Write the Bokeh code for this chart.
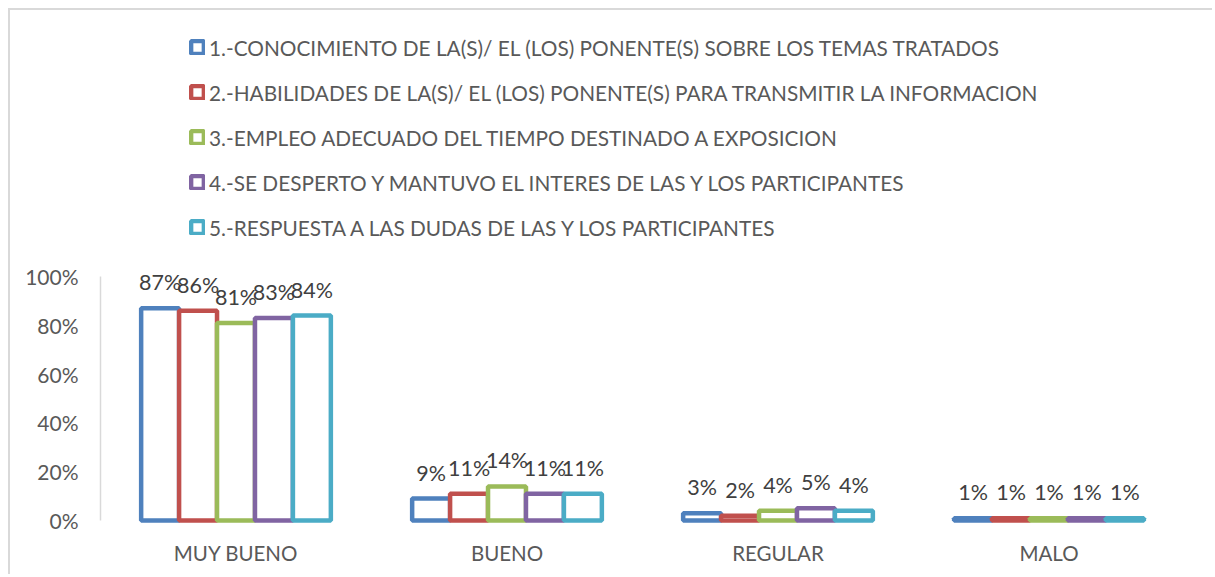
from bokeh.plotting import figure
from bokeh.models import (ColumnDataSource, FactorRange, Range1d, FixedTicker,
                          NumeralTickFormatter, Legend, LegendItem, LabelSet)
from bokeh.core.properties import value
from bokeh.transform import dodge
from bokeh.embed import file_html
from bokeh.resources import INLINE

categories = ["MUY BUENO", "BUENO", "REGULAR", "MALO"]
series_names = [
    "1.-CONOCIMIENTO DE LA(S)/ EL (LOS) PONENTE(S) SOBRE LOS TEMAS TRATADOS",
    "2.-HABILIDADES DE LA(S)/ EL (LOS) PONENTE(S) PARA TRANSMITIR LA INFORMACION",
    "3.-EMPLEO ADECUADO DEL TIEMPO DESTINADO A EXPOSICION",
    "4.-SE DESPERTO Y MANTUVO EL INTERES DE LAS Y LOS PARTICIPANTES",
    "5.-RESPUESTA A LAS DUDAS DE LAS Y LOS PARTICIPANTES",
]
s1 = [0.87, 0.09, 0.03, 0.01]
s2 = [0.86, 0.11, 0.02, 0.01]
s3 = [0.81, 0.14, 0.04, 0.01]
s4 = [0.83, 0.11, 0.05, 0.01]
s5 = [0.84, 0.11, 0.04, 0.01]
series_values = [s1, s2, s3, s4, s5]
colors = ["#4F81BD", "#C0504D", "#9BBB59", "#8064A2", "#4BACC6"]
y_ticks = [0, 0.2, 0.4, 0.6, 0.8, 1.0]

FONT = "Lato"
W, H = 1204, 566
FRAME_BOTTOM = 513

p = figure(x_range=FactorRange(*categories, range_padding=0),
           y_range=Range1d(-0.012, 2.008),
           width=W, height=H, output_backend="svg", toolbar_location=None,
           min_border_left=90, min_border_right=W - 1174, min_border_top=20,
           min_border_bottom=H - FRAME_BOTTOM)
p.styles = {"border-left": "2px solid #d9d9d9", "border-top": "2px solid #d9d9d9",
            "margin-left": "8px", "margin-top": "8px"}
p.outline_line_color = None
p.grid.visible = False
p.background_fill_color = "white"
p.border_fill_color = "white"

bw = 0.14
offsets = [-0.28, -0.14, 0.0, 0.14, 0.28]
items = []
for name, vals, col, off in zip(series_names, series_values, colors, offsets):
    src = ColumnDataSource(dict(cat=categories, val=vals,
                                lab=[f"{round(v*100)}%" for v in vals]))
    r = p.vbar(x=dodge("cat", off, range=p.x_range), top="val", bottom=0,
               width=bw, source=src, fill_color="white", line_color=col,
               line_width=4.5)
    items.append(LegendItem(label=name, renderers=[r]))
    ls = LabelSet(x=dodge("cat", off, range=p.x_range), y="val", text="lab",
                  source=src, y_offset=18, text_align="center",
                  text_baseline="alphabetic", text_font=value(FONT),
                  text_font_size=value("21.5px"), text_color=value("#404040"))
    p.add_layout(ls)

legend = Legend(items=items, location=(89, 283), orientation="vertical",
                padding=0, margin=0, spacing=19, label_height=26,
                glyph_width=16, glyph_height=16, label_standoff=4,
                label_text_font=FONT, label_text_font_size="20.8px",
                label_text_color="#595959", border_line_color=None,
                background_fill_alpha=0)
p.add_layout(legend, "center")

p.yaxis.ticker = FixedTicker(ticks=y_ticks)
p.yaxis.bounds = (0, 1)
p.yaxis.formatter = NumeralTickFormatter(format="0%")
p.yaxis.axis_line_color = "#d9d9d9"
p.yaxis.axis_line_width = 1.5
p.yaxis.major_tick_line_color = None
p.yaxis.minor_tick_line_color = None
p.yaxis.major_tick_out = 0
p.yaxis.major_label_standoff = 22
p.yaxis.major_label_text_font = FONT
p.yaxis.major_label_text_font_size = "21px"
p.yaxis.major_label_text_color = "#595959"

p.xaxis.axis_line_color = None
p.xaxis.major_tick_line_color = None
p.xaxis.minor_tick_line_color = None
p.xaxis.major_tick_out = 0
p.xaxis.major_label_standoff = 17
p.xaxis.major_label_text_font = FONT
p.xaxis.major_label_text_font_size = "20.5px"
p.xaxis.major_label_text_color = "#595959"

open("out.html", "w").write(file_html(p, INLINE))
